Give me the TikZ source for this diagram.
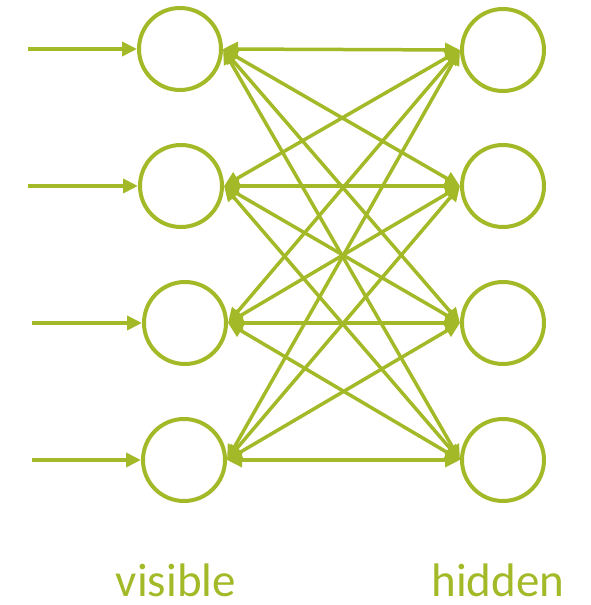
\documentclass[tikz,border=0pt]{standalone}
\usepackage{fontspec}
\setmainfont{Carlito}
\usepackage{xcolor}
\usepackage{tikz}
\usetikzlibrary{arrows.meta}
\definecolor{oliva}{HTML}{A4B928}

\begin{document}
\begin{tikzpicture}[x=1pt, y=1pt,
    neuronio/.style={draw=oliva, circle, line width=4pt, minimum size=82pt, inner sep=0pt},
    seta/.style={-{Triangle[length=15pt, width=14pt]}, line width=4pt, oliva},
    duplaseta/.style={{Triangle[length=15pt, width=14pt]}-{Triangle[length=15pt, width=14pt]}, line width=3.5pt, oliva},
    rotulo/.style={anchor=base, inner sep=0pt, text=oliva, font=\fontsize{47}{50}\selectfont}
]
    \useasboundingbox (0,0) rectangle (590,605);

    \node[neuronio] (vis1) at (180,556) {};
    \node[neuronio] (vis2) at (181,419) {};
    \node[neuronio] (vis3) at (185,282) {};
    \node[neuronio] (vis4) at (184,145) {};

    \node[neuronio] (hid1) at (503,555) {};
    \node[neuronio] (hid2) at (503,419) {};
    \node[neuronio] (hid3) at (503,282) {};
    \node[neuronio] (hid4) at (503,145) {};

    \coordinate (in1) at (28,556);
    \coordinate (in2) at (28,419);
    \coordinate (in3) at (32,282);
    \coordinate (in4) at (32,145);

    \foreach \i in {1,...,4} {
        \draw[seta] (in\i) -- (vis\i);
        \foreach \j in {1,...,4}
            \draw[duplaseta] (vis\i.east) -- (hid\j.west);
    }

    \node[rotulo] (visivel) at (176,9) {visible};
    \node[rotulo] (oculta) at (498,9) {hidden};
\end{tikzpicture}
\end{document}
